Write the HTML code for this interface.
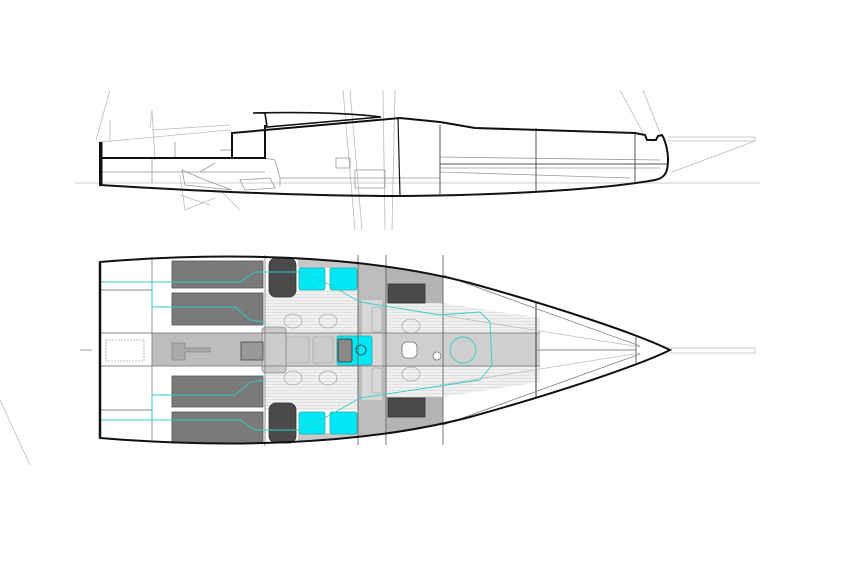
<!DOCTYPE html>
<html><head><meta charset="utf-8"><style>html,body{margin:0;padding:0;background:#fff}svg{display:block}</style></head>
<body>
<svg width="850" height="561" viewBox="0 0 850 561" xmlns="http://www.w3.org/2000/svg">
<defs>
<clipPath id="hull"><path d="M100,262 C220,252 360,254 470,283 C560,308 640,335 670,350 C640,365 560,392 470,417 C360,446 220,448 100,438 Z"/></clipPath>
<pattern id="str" width="4" height="3" patternUnits="userSpaceOnUse"><rect width="4" height="3" fill="#f0f0f0"/><line x1="0" y1="0.5" x2="4" y2="0.5" stroke="#d8d8d8" stroke-width="0.6"/></pattern>
</defs>

<!-- ================= PROFILE ================= -->
<g fill="none" stroke="#bbb" stroke-width="0.8">
<line x1="75" y1="183" x2="760" y2="183"/>
<line x1="96" y1="140" x2="110" y2="90"/>
<line x1="343" y1="90" x2="355" y2="230"/>
<line x1="350" y1="90" x2="362" y2="230"/>
<line x1="383" y1="90" x2="385" y2="230"/>
<line x1="395" y1="90" x2="392" y2="230"/>
<line x1="620" y1="90" x2="643" y2="133"/>
<line x1="643" y1="90" x2="660" y2="133"/>
<path d="M668,137 L755,137 L755,141 L668,141"/>
<line x1="755" y1="141" x2="672" y2="172"/>
<path d="M100,142 L230,130 M110,142 L110,120 M150,128 L152,110 L155,160 M152,130 L230,125"/>
<path d="M180,175 L185,210 L215,198 M180,195 L210,205 M220,190 L240,210"/>
<line x1="0" y1="400" x2="30" y2="465"/>
</g>
<g fill="none" stroke="#999" stroke-width="0.8">
<path d="M100,172 L265,172 M152,158 L152,183"/>
<path d="M265,158 L275,160 L280,178 L280,186"/>
<path d="M280,178 L440,178 M440,168 L660,168 M440,157 L660,160 M440,172 L630,178"/>
<rect x="336" y="158" width="14" height="10"/>
<rect x="355" y="170" width="30" height="18"/>
<path d="M182,170 L205,180 L232,190 L185,185 Z M200,172 L215,163"/>
<path d="M240,180 L270,178 L275,188 L245,190 Z"/>
<line x1="175" y1="142" x2="175" y2="157"/>
<line x1="220" y1="150" x2="232" y2="150"/>
</g>
<g fill="none" stroke="#555" stroke-width="1">
<line x1="536" y1="128" x2="536" y2="192"/>
<line x1="635" y1="133" x2="635" y2="182"/>
<line x1="440" y1="164" x2="668" y2="164"/>
<line x1="440" y1="125" x2="440" y2="194"/>
</g>
<g fill="none" stroke="#111" stroke-width="2">
<path d="M100,142 L100,185 C200,191 300,196 400,196 C500,195 600,190 655,180 C665,178 668,172 668,160 C668,150 665,140 662,135 L658,136 L656,140 L647,140 L645,135 L635,133 L475,128 L440,122 L400,118 L232,133 L232,158"/>
<path d="M100,158 L265,158 L265,125"/>
<path d="M253,113 C300,112 350,113 381,117 L267,127 L265,113 Z" stroke-width="1.6"/>
<line x1="398" y1="118" x2="400" y2="196" stroke-width="1.2"/>
<line x1="101" y1="142" x2="101" y2="185" stroke-width="3"/>
</g>

<!-- ================= PLAN ================= -->
<g clip-path="url(#hull)">
<rect x="95" y="250" width="580" height="200" fill="#fff"/>
<rect x="152" y="333" width="113" height="33" fill="#bdbdbd"/>
<rect x="265" y="290" width="93" height="120" fill="url(#str)"/>
<rect x="265" y="333" width="275" height="33" fill="#cfcfcf"/>
<rect x="298" y="255" width="60" height="13" fill="#c8c8c8"/>
<rect x="298" y="433" width="60" height="13" fill="#c8c8c8"/>
<rect x="358" y="250" width="28" height="200" fill="#bcbcbc"/>
<rect x="362" y="300" width="20" height="100" fill="#d8d8d8"/>
<path d="M386,303 L443,303 L540,318 L540,333 L386,333 Z" fill="url(#str)"/>
<path d="M386,366 L540,366 L540,382 L443,397 L386,397 Z" fill="url(#str)"/>
<rect x="386" y="250" width="57" height="53" fill="#b4b4b4"/>
<rect x="386" y="397" width="57" height="53" fill="#b4b4b4"/>
</g>
<!-- berths -->
<g fill="#7a7a7a" stroke="#555" stroke-width="0.8">
<rect x="172" y="261" width="91" height="27"/>
<rect x="172" y="293" width="91" height="32"/>
<rect x="172" y="376" width="91" height="31"/>
<rect x="172" y="412" width="91" height="31"/>
</g>
<g fill="#4a4a4a" stroke="#333" stroke-width="0.8">
<rect x="269" y="258" width="27" height="39" rx="7"/>
<rect x="269" y="403" width="27" height="40" rx="7"/>
<rect x="388" y="284" width="37" height="19"/>
<rect x="388" y="398" width="37" height="19"/>
</g>
<g fill="#00e8f5" stroke="#2aa" stroke-width="0.8">
<rect x="299" y="268" width="26" height="22" rx="2"/>
<rect x="330" y="268" width="27" height="22" rx="2"/>
<rect x="299" y="412" width="26" height="22" rx="2"/>
<rect x="330" y="412" width="27" height="22" rx="2"/>
<rect x="265" y="335" width="18" height="30"/>
<rect x="337" y="336" width="35" height="29" rx="2"/>
</g>
<g fill="#888" stroke="#333" stroke-width="0.8">
<rect x="338" y="339" width="14" height="23" rx="2"/>
<circle cx="361" cy="350" r="5" fill="none"/>
</g>
<!-- misc light items -->
<g fill="none" stroke="#aaa" stroke-width="0.8">
<ellipse cx="293" cy="321" rx="9" ry="7"/><ellipse cx="328" cy="321" rx="9" ry="7"/>
<ellipse cx="293" cy="378" rx="9" ry="7"/><ellipse cx="328" cy="378" rx="9" ry="7"/>
<ellipse cx="411" cy="326" rx="9" ry="7"/><ellipse cx="411" cy="374" rx="9" ry="7"/>
<rect x="286" y="337" width="23" height="26" rx="2" fill="#ccc"/>
<rect x="313" y="337" width="20" height="26" rx="2" fill="#ccc"/>
<rect x="262" y="327" width="24" height="46" rx="4" fill="#ccc" stroke="#888"/>
<rect x="372" y="307" width="10" height="25" rx="3"/>
<rect x="372" y="368" width="10" height="25" rx="3"/>
<rect x="402" y="342" width="15" height="16" rx="5" fill="#fff" stroke="#777"/>
<circle cx="437" cy="356" r="4" fill="#fff" stroke="#777"/>
<rect x="106" y="340" width="38" height="21" stroke-dasharray="2,1"/>
<path d="M172,343 L185,343 L185,348 L210,348 L210,352 L185,352 L185,360 L172,360 Z" fill="#aaa" stroke="#888"/>
<rect x="241" y="342" width="22" height="18" fill="#999" stroke="#444"/>
<line x1="80" y1="350" x2="92" y2="350" stroke="#888"/>
</g>
<!-- structure lines -->
<g fill="none" stroke="#888" stroke-width="0.9">
<line x1="152" y1="258" x2="152" y2="442"/>
<line x1="265" y1="255" x2="265" y2="446"/>
<line x1="100" y1="333" x2="540" y2="333"/>
<line x1="100" y1="366" x2="540" y2="366"/>
<line x1="100" y1="290" x2="152" y2="290"/>
<line x1="100" y1="410" x2="152" y2="410"/>
<line x1="536" y1="303" x2="536" y2="397" stroke="#555" stroke-width="1.2"/>
<line x1="636" y1="337" x2="636" y2="363" stroke="#555"/>
<line x1="536" y1="350" x2="636" y2="350"/>
<line x1="443" y1="275" x2="640" y2="346"/>
<line x1="443" y1="425" x2="640" y2="354"/>
<line x1="443" y1="255" x2="443" y2="445" stroke="#666"/>
<line x1="386" y1="255" x2="386" y2="445" stroke="#666"/>
<line x1="358" y1="255" x2="358" y2="445" stroke="#666"/>
</g>
<g fill="none" stroke="#bbb" stroke-width="0.8">
<line x1="440" y1="315" x2="640" y2="347"/>
<line x1="440" y1="385" x2="640" y2="353"/>
<path d="M670,348 L755,348 L755,353 L670,353"/>
</g>
<!-- cyan lines -->
<g fill="none" stroke="#3cc" stroke-width="0.9">
<path d="M100,282 L240,282 L255,272 L300,272 L330,285 L360,302 L440,315 L480,312 L490,322 L492,365 L480,380 L440,386 L360,398 L330,415 L300,430 L255,430 L240,420 L100,420"/>
<path d="M152,282 L152,307 L235,307 L250,320 L265,322"/>
<path d="M152,420 L152,395 L235,395 L250,382 L265,380"/>
<circle cx="463" cy="350" r="13"/>
</g>
<path d="M100,262 C220,252 360,254 470,283 C560,308 640,335 670,350 C640,365 560,392 470,417 C360,446 220,448 100,438 Z" fill="none" stroke="#111" stroke-width="2"/>
<line x1="100" y1="262" x2="100" y2="438" stroke="#111" stroke-width="2.5"/>
</svg>
</body></html>
